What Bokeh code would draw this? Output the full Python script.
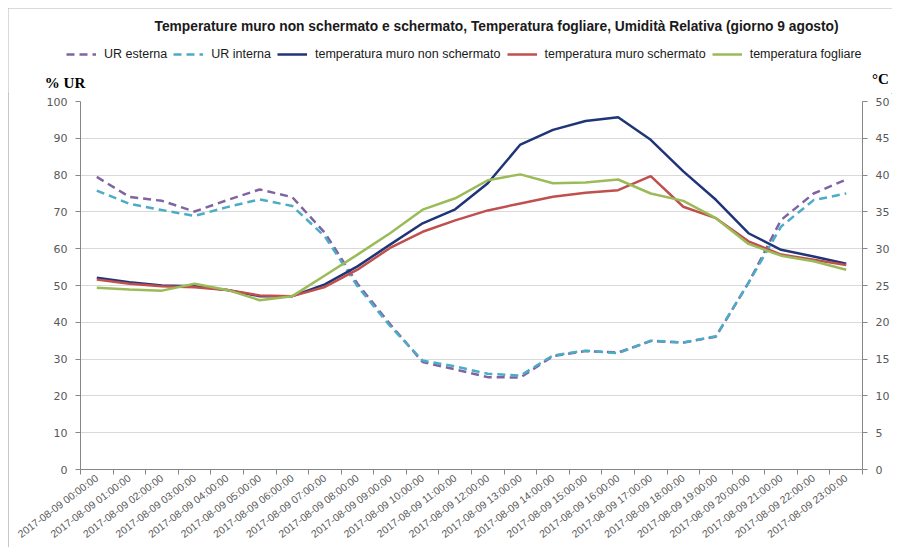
import math
from bokeh.plotting import figure
from bokeh.layouts import column
from bokeh.models import (Range1d, LinearAxis, FixedTicker, CustomJSTickFormatter,
                          Legend, LegendItem, Label)
from bokeh.embed import file_html
from bokeh.resources import INLINE

# ---------------- data ----------------
hours = [
    "2017-08-09 00:00:00", "2017-08-09 01:00:00", "2017-08-09 02:00:00",
    "2017-08-09 03:00:00", "2017-08-09 04:00:00", "2017-08-09 05:00:00",
    "2017-08-09 06:00:00", "2017-08-09 07:00:00", "2017-08-09 08:00:00",
    "2017-08-09 09:00:00", "2017-08-09 10:00:00", "2017-08-09 11:00:00",
    "2017-08-09 12:00:00", "2017-08-09 13:00:00", "2017-08-09 14:00:00",
    "2017-08-09 15:00:00", "2017-08-09 16:00:00", "2017-08-09 17:00:00",
    "2017-08-09 18:00:00", "2017-08-09 19:00:00", "2017-08-09 20:00:00",
    "2017-08-09 21:00:00", "2017-08-09 22:00:00", "2017-08-09 23:00:00",
]

# relative humidity (%), left axis
ur_esterna = [79.5, 74.1, 73.0, 70.1, 73.2, 76.1, 74.0, 64.3, 50.5, 39.5, 29.2, 27.2,
              25.1, 25.0, 30.8, 32.2, 31.8, 34.9, 34.5, 36.1, 50.7, 67.8, 75.0, 78.8]
ur_interna = [75.8, 72.2, 70.5, 68.9, 71.3, 73.4, 71.6, 63.3, 49.8, 39.0, 29.6, 28.0,
              26.0, 25.5, 31.0, 32.3, 31.6, 35.0, 34.5, 36.2, 50.7, 66.0, 73.2, 75.0]

# temperatures (°C), right axis
t_muro_non_schermato = [26.05, 25.45, 25.0, 24.9, 24.4, 23.55, 23.55, 25.15, 27.6, 30.55,
                        33.45, 35.35, 38.9, 44.15, 46.15, 47.35, 47.85, 44.8, 40.5, 36.65,
                        32.1, 29.85, 28.95, 27.95]
t_muro_schermato = [25.8, 25.25, 24.9, 24.75, 24.4, 23.65, 23.55, 24.8, 27.15, 30.1,
                    32.3, 33.85, 35.2, 36.15, 37.05, 37.6, 37.95, 39.85, 35.7, 34.15,
                    31.0, 29.2, 28.5, 27.8]
t_fogliare = [24.7, 24.45, 24.3, 25.25, 24.4, 23.0, 23.55, 26.35, 29.2, 32.1,
              35.3, 36.85, 39.3, 40.1, 38.9, 39.0, 39.4, 37.5, 36.5, 34.15,
              30.65, 29.05, 28.3, 27.15]

series_names = ["UR esterna", "UR interna", "temperatura muro non schermato",
                "temperatura muro schermato", "temperatura fogliare"]
series_colors = ["#8064A2", "#4BACC6", "#1F3577", "#C0504D", "#9BBB59"]
series_dash = ["8 5", "8 5", "solid", "solid", "solid"]

ur_ticks = [0, 10, 20, 30, 40, 50, 60, 70, 80, 90, 100]
t_ticks = [0, 5, 10, 15, 20, 25, 30, 35, 40, 45, 50]

title_text = ("Temperature muro non schermato e schermato, Temperatura fogliare, "
              "Umidità Relativa (giorno 9  agosto)")

W = 884
HEAD_H = 85
MAIN_H = 454

# ---------------- header (title, legend, axis titles) ----------------
head = figure(width=W, height=HEAD_H, x_range=Range1d(0, W), y_range=Range1d(HEAD_H, 0),
              x_axis_type=None, y_axis_type=None, output_backend="svg",
              toolbar_location=None, title=None, min_border=0,
              background_fill_color="white", border_fill_color="white")
head.outline_line_color = None
head.grid.visible = False
head.frame_align = False

head.add_layout(Label(x=490, y=18, text=title_text, text_align="center",
                      text_baseline="middle", text_font="Liberation Sans",
                      text_font_size="13.8px", text_font_style="bold",
                      text_color="#1a1a1a"))
head.add_layout(Label(x=56.5, y=74, text="% UR", text_align="center",
                      text_baseline="middle", text_font="Liberation Serif",
                      text_font_size="15px", text_font_style="bold",
                      text_color="#000000"))
head.add_layout(Label(x=872, y=70, text="°C", text_align="center",
                      text_baseline="middle", text_font="Liberation Serif",
                      text_font_size="15px", text_font_style="bold",
                      text_color="#000000"))

# legend keys: one-point lines (draw nothing in the header, only the legend key)
series_first = [ur_esterna[0], ur_interna[0], t_muro_non_schermato[0],
                t_muro_schermato[0], t_fogliare[0]]
legend_renderers = [head.line(x=[0], y=[v], line_color=c, line_width=2.5, line_dash=d)
                    for v, c, d in zip(series_first, series_colors, series_dash)]
legend = Legend(items=[LegendItem(label=nm, renderers=[r]) for nm, r in
                       zip(series_names, legend_renderers)],
                orientation="horizontal", location=(58, 32),
                padding=0, margin=0, spacing=6, label_standoff=8,
                glyph_width=30, glyph_height=14, label_height=14,
                label_text_font="Liberation Sans", label_text_font_size="12.5px",
                label_text_color="#1a1a1a", border_line_color=None,
                background_fill_alpha=0)
head.add_layout(legend, "center")

# ---------------- main chart ----------------
n = len(hours)
xs = [i + 0.5 for i in range(n)]

p = figure(width=W, height=MAIN_H, x_range=Range1d(0, n), y_range=Range1d(0, 100),
           output_backend="svg", toolbar_location=None, title=None,
           min_border_left=72, min_border_right=30, min_border_top=8,
           min_border_bottom=76, background_fill_color="white",
           border_fill_color="white")
p.outline_line_color = None
p.frame_align = False
p.extra_y_ranges = {"t": Range1d(0, 50)}

p.xgrid.visible = False
p.ygrid.grid_line_color = "#d9d9d9"
p.ygrid.grid_line_width = 1
p.ygrid.ticker = FixedTicker(ticks=ur_ticks)

xa = p.xaxis[0]
xa.ticker = FixedTicker(ticks=xs, minor_ticks=list(range(n + 1)))
xa.formatter = CustomJSTickFormatter(args=dict(labels=hours),
                                     code="return labels[Math.floor(tick)] || ''")
xa.major_tick_out = 0
xa.major_tick_in = 0
xa.minor_tick_out = 5
xa.minor_tick_in = 0
xa.minor_tick_line_color = "#868686"
xa.axis_line_color = "#868686"
xa.major_label_orientation = math.radians(37)
xa.major_label_standoff = 2
xa.major_label_text_font = "Liberation Sans"
xa.major_label_text_font_size = "10.5px"
xa.major_label_text_color = "#595959"

ya = p.yaxis[0]
ya.ticker = FixedTicker(ticks=ur_ticks)
ya.major_tick_out = 5
ya.major_tick_in = 0
ya.minor_tick_line_color = None
ya.axis_line_color = "#868686"
ya.major_tick_line_color = "#868686"
ya.major_label_standoff = 8
ya.major_label_text_font = "DejaVu Sans"
ya.major_label_text_font_size = "11px"
ya.major_label_text_color = "#595959"

ra = LinearAxis(y_range_name="t", ticker=FixedTicker(ticks=t_ticks))
ra.major_tick_out = 5
ra.major_tick_in = 0
ra.minor_tick_line_color = None
ra.axis_line_color = "#868686"
ra.major_tick_line_color = "#868686"
ra.major_label_standoff = 8
ra.major_label_text_font = "DejaVu Sans"
ra.major_label_text_font_size = "11px"
ra.major_label_text_color = "#595959"
p.add_layout(ra, "right")

p.line(xs, ur_esterna, line_color=series_colors[0], line_width=2.5, line_dash=series_dash[0])
p.line(xs, ur_interna, line_color=series_colors[1], line_width=2.5, line_dash=series_dash[1])
p.line(xs, t_muro_non_schermato, y_range_name="t", line_color=series_colors[2], line_width=2.5)
p.line(xs, t_muro_schermato, y_range_name="t", line_color=series_colors[3], line_width=2.5)
p.line(xs, t_fogliare, y_range_name="t", line_color=series_colors[4], line_width=2.5)

layout = column(head, p, spacing=0)
layout.styles = {"margin-left": "8px", "margin-top": "8px",
                 "outline": "1px solid #b4b4b4", "outline-offset": "-1px"}

open("out.html", "w").write(file_html(layout, INLINE))
